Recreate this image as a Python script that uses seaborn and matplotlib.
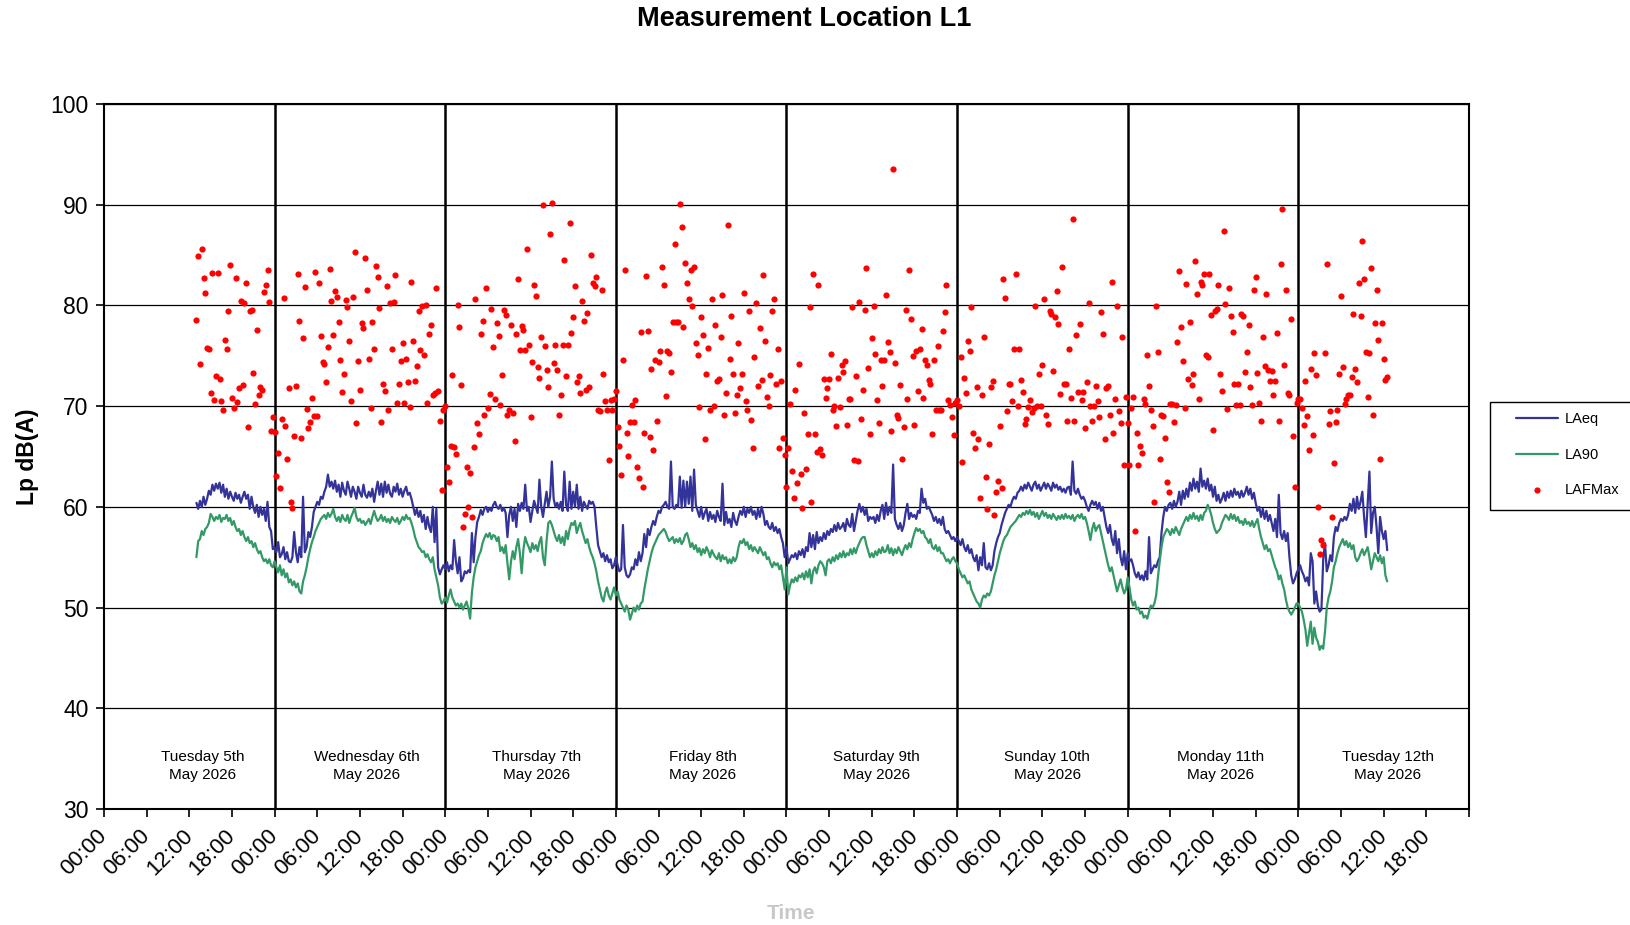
import pandas as pd
import seaborn as sns
import matplotlib.pyplot as plt
from matplotlib.patches import Rectangle

# Noise survey at L1: 15 minute LAeq / LA90 / LAFMax, one list per calendar day

day_starts = ['2026-05-05 13:00', '2026-05-06', '2026-05-07', '2026-05-08',
              '2026-05-09', '2026-05-10', '2026-05-11', '2026-05-12']
day_labels = ['Tuesday 5th\nMay 2026', 'Wednesday 6th\nMay 2026', 'Thursday 7th\nMay 2026',
              'Friday 8th\nMay 2026', 'Saturday 9th\nMay 2026', 'Sunday 10th\nMay 2026',
              'Monday 11th\nMay 2026', 'Tuesday 12th\nMay 2026']

laeq_tue5 = [60.4, 59.8, 60.6, 60.0, 61.0, 60.2, 60.8, 61.6, 61.2, 62.2, 61.6, 62.3,
             61.8, 62.4, 61.4, 62.2, 61.0, 61.8, 60.8, 61.5, 61.0, 60.6, 61.4, 60.8,
             61.2, 60.4, 61.0, 61.5, 60.8, 61.2, 59.8, 61.0, 60.0, 59.4, 60.2, 59.0,
             60.0, 59.2, 59.8, 58.6, 60.5, 58.0, 57.6, 55.8]
laeq_wed6 = [56.0, 55.5, 56.5, 55.0, 55.3, 56.0, 54.8, 55.5, 54.6, 54.5, 55.0, 57.5,
             55.5, 54.5, 56.0, 55.0, 61.0, 55.5, 56.0, 57.5, 57.0, 58.0, 59.5, 60.0,
             60.5, 60.2, 61.0, 60.8, 61.5, 62.0, 63.2, 62.0, 62.5, 61.8, 62.6, 61.5,
             62.2, 61.0, 62.4, 61.6, 61.2, 62.5, 61.8, 61.0, 62.0, 61.5, 60.8, 62.0,
             61.4, 61.0, 62.2, 61.2, 60.9, 61.5, 61.0, 61.8, 60.5, 61.6, 62.5, 61.2,
             62.3, 61.0, 62.5, 61.4, 62.2, 61.3, 61.0, 62.0, 61.5, 62.3, 61.2, 61.8,
             61.0, 61.6, 62.0, 61.2, 61.4, 60.8, 60.0, 59.2, 59.8, 59.0, 59.6, 58.5,
             59.2, 57.8, 59.0, 58.0, 57.5, 60.0, 56.5, 59.8, 54.0, 53.3, 53.8, 54.2]
laeq_thu7 = [53.8, 54.5, 53.6, 54.2, 53.8, 56.7, 54.6, 53.4, 55.0, 52.6, 52.9, 53.6,
             53.4, 53.7, 53.5, 57.4, 54.5, 57.0, 58.5, 59.0, 59.7, 59.2, 59.8, 60.0,
             59.5, 59.9, 59.6, 60.2, 60.5, 60.0, 59.8, 60.2, 59.6, 59.9, 59.4, 57.0,
             59.2, 60.0, 58.6, 59.8, 58.0, 60.3, 59.6, 60.4, 59.8, 62.2, 59.6, 60.0,
             58.5, 59.6, 60.6, 60.0, 59.4, 62.7, 60.0, 59.0, 60.3, 61.5, 60.0, 61.0,
             64.5, 60.8, 60.0, 60.4, 59.8, 60.5, 59.6, 63.5, 60.2, 59.6, 62.5, 59.8,
             61.5, 60.0, 62.2, 59.8, 61.0, 59.6, 60.5, 60.1, 59.8, 60.6, 60.3, 60.5,
             60.0, 58.0, 56.2, 55.6, 55.0, 55.4, 54.6, 55.2, 54.5, 54.8, 53.9, 54.2]
laeq_fri8 = [55.0, 54.2, 53.6, 53.8, 58.2, 54.0, 53.2, 53.0, 53.3, 54.0, 53.8, 54.8,
             54.2, 55.5, 54.6, 55.4, 57.3, 56.0, 57.8, 57.2, 58.0, 58.6, 58.2, 59.0,
             59.6, 59.4, 60.0, 60.2, 60.5, 60.0, 59.8, 64.5, 60.0, 59.8, 60.2, 60.0,
             63.0, 59.9, 62.6, 60.0, 62.5, 60.3, 63.0, 59.6, 63.7, 60.2, 59.6, 59.0,
             60.0, 58.8, 59.4, 59.8, 58.6, 59.5, 58.8, 59.2, 58.5, 59.6, 59.0, 58.6,
             62.3, 58.2, 59.5, 58.4, 58.8, 58.0, 59.4, 58.6, 58.2, 59.0, 59.6, 59.2,
             60.0, 59.0, 59.8, 59.4, 60.0, 59.2, 59.6, 58.8, 59.8, 59.0, 60.0, 59.3,
             58.2, 58.6, 58.0, 57.8, 58.4, 57.6, 58.0, 57.4, 57.8, 57.0, 56.4, 55.0]
laeq_sat9 = [56.0, 54.4, 54.8, 55.2, 55.0, 55.4, 54.8, 55.6, 55.2, 55.8, 55.0, 56.0,
             55.6, 57.4, 56.0, 57.2, 55.8, 57.5, 56.4, 57.0, 56.6, 57.4, 56.8, 57.6,
             57.2, 57.8, 57.5, 58.2, 57.6, 58.4, 57.8, 58.0, 58.4, 57.6, 58.8, 58.2,
             58.0, 59.3, 57.6, 58.6, 59.6, 60.3, 59.5, 60.0, 59.2, 59.8, 58.6, 59.0,
             58.8, 59.0, 58.4, 59.2, 58.6, 59.6, 60.2, 58.8, 60.4, 59.2, 60.0, 59.4,
             64.2, 58.8, 58.2, 57.8, 58.4, 57.6, 58.2, 59.4, 60.3, 58.8, 59.4, 59.0,
             59.2, 58.8, 59.6, 59.4, 61.8, 60.4, 60.8, 59.8, 60.0, 59.6, 59.2, 58.6,
             59.0, 58.4, 58.8, 58.2, 59.0, 57.8, 57.4, 57.6, 57.2, 56.8, 57.0, 56.6]
laeq_sun10 = [57.0, 56.6, 56.2, 56.8, 56.0, 55.6, 56.2, 55.4, 55.8, 55.0, 54.6, 55.2,
              53.7, 55.0, 54.2, 56.4, 54.0, 53.8, 54.4, 53.7, 54.2, 55.6, 56.4, 57.0,
              57.4, 58.2, 58.8, 59.4, 59.8, 60.2, 60.0, 60.6, 61.0, 60.8, 61.4, 61.6,
              62.0, 61.6, 62.2, 61.8, 62.4, 62.0, 61.6, 62.2, 62.5, 61.8, 62.2, 61.6,
              62.0, 62.4, 61.8, 62.3, 62.0, 61.6, 62.4, 61.9, 62.2, 61.7, 62.0, 61.5,
              61.8, 61.4, 61.9, 62.0, 61.2, 64.5, 61.6, 61.3, 61.8, 61.2, 60.8, 61.0,
              60.6, 60.0, 59.6, 60.2, 60.6, 60.2, 60.5, 59.8, 60.4, 59.6, 60.0, 59.0,
              58.0, 57.4, 58.2, 56.8, 56.2, 57.6, 55.4, 56.8, 55.0, 54.2, 55.6, 53.8]
laeq_mon11 = [55.4, 54.6, 54.8, 54.2, 53.4, 53.0, 53.5, 52.8, 53.2, 52.7, 53.6, 52.8,
              57.0, 53.4, 53.8, 54.2, 54.0, 54.6, 55.0, 57.4, 59.0, 60.0, 59.6, 60.2,
              60.4, 59.8, 60.6, 60.0, 60.5, 61.5, 60.2, 61.6, 60.8, 61.8, 61.0, 62.4,
              61.6, 62.8, 61.8, 62.5, 61.5, 63.8, 62.0, 62.6, 61.8, 62.8, 61.6, 62.2,
              61.0, 62.0, 60.6, 61.2, 60.4, 60.8, 61.4, 60.6, 61.5, 60.9, 61.6, 61.0,
              61.8, 61.2, 61.5, 60.9, 61.6, 61.0, 61.4, 62.0, 61.2, 61.8, 60.8, 61.4,
              60.4, 59.6, 60.0, 59.0, 59.8, 58.8, 59.6, 58.6, 59.2, 58.4, 57.6, 58.8,
              57.0, 61.2, 57.4, 56.8, 57.6, 56.6, 57.4, 55.0, 53.2, 52.4, 52.8, 53.4]
laeq_tue12 = [53.8, 54.2, 53.6, 53.2, 52.6, 53.0, 52.2, 55.4, 54.6, 50.4, 51.6, 50.2,
              49.6, 49.8, 54.8, 56.4, 53.6, 54.2, 55.2, 54.6, 57.0, 58.0, 57.6, 58.4,
              58.8, 58.6, 59.0, 58.7, 59.2, 60.3, 59.6, 60.8, 59.4, 61.0, 59.8, 60.5,
              61.5, 59.0, 57.0, 60.2, 63.5, 57.4, 59.4, 60.0, 58.0, 55.4, 59.0, 57.6,
              56.8, 57.6, 55.7]

la90_tue5 = [55.0, 56.6, 56.8, 57.6, 57.2, 57.8, 58.0, 58.4, 59.3, 59.0, 58.6, 59.0,
             58.8, 59.2, 58.5, 58.9, 58.8, 59.2, 58.6, 58.9, 58.2, 58.6, 58.0, 57.6,
             57.8, 57.2, 57.6, 57.0, 56.6, 57.0, 56.4, 56.6, 56.0, 56.4, 55.8, 55.4,
             55.6, 55.0, 54.6, 54.8, 54.4, 54.8, 54.2, 54.0]
la90_wed6 = [54.6, 54.0, 53.5, 54.2, 53.2, 53.8, 53.0, 53.4, 52.5, 52.8, 52.2, 52.6,
             52.0, 52.4, 51.6, 51.4, 52.6, 53.2, 54.0, 55.0, 55.8, 56.5, 57.0, 57.6,
             58.0, 58.4, 58.8, 59.0, 59.2, 58.8, 59.4, 59.0, 59.3, 59.8, 59.0, 58.6,
             59.0, 58.5, 59.2, 58.8, 58.6, 59.2, 58.4, 59.0, 59.4, 59.9, 59.0, 58.6,
             58.8, 58.4, 58.6, 58.2, 58.5, 58.8, 58.3, 59.0, 59.6, 59.0, 58.6, 58.8,
             59.2, 58.6, 59.0, 58.5, 58.8, 58.4, 59.0, 58.7, 58.5, 58.9, 58.3, 58.6,
             59.0, 58.7, 59.2, 58.8, 58.9, 58.4, 57.8, 57.0, 56.5, 56.0, 55.8, 55.5,
             55.6, 55.0, 55.3, 54.8, 54.5, 55.0, 53.8, 53.0, 52.2, 51.0, 50.4, 50.6]
la90_thu7 = [51.0, 50.5, 51.2, 51.8, 51.0, 50.6, 50.2, 50.4, 50.0, 50.4, 49.8, 50.2,
             50.6, 49.9, 48.9, 51.5, 53.0, 54.0, 54.6, 55.2, 55.6, 56.4, 56.9, 57.3,
             57.0, 57.4, 56.8, 57.2, 57.1, 56.6, 57.0, 55.6, 56.0, 55.4, 56.2, 54.4,
             52.8, 54.6, 55.6, 54.8, 56.0, 56.8, 55.4, 53.4, 55.8, 57.0, 56.4, 56.0,
             55.5, 56.4, 55.8, 56.2, 55.6, 56.5, 57.0, 55.0, 54.2, 56.6, 58.4, 58.6,
             58.2, 57.6, 57.0, 56.6, 57.2, 56.4, 57.0, 56.2, 57.6, 56.8, 57.8, 58.4,
             58.2, 58.6, 57.4, 58.0, 58.4, 57.6, 57.0, 56.4, 56.8, 56.0, 55.4, 55.0,
             54.4, 53.6, 52.6, 51.8, 51.0, 50.6, 51.5, 52.0, 51.2, 50.8, 51.4, 52.0]
la90_fri8 = [51.2, 51.6, 50.8, 50.4, 50.0, 49.6, 50.2, 49.8, 48.8, 49.4, 50.0, 49.6,
             50.2, 49.8, 50.4, 50.6, 51.8, 52.8, 53.8, 54.6, 55.4, 56.0, 56.4, 56.8,
             57.2, 57.4, 57.6, 57.8, 57.5, 57.0, 56.6, 56.8, 57.0, 56.4, 56.8, 56.5,
             56.9, 56.3, 56.6, 57.2, 57.4, 56.8, 56.0, 56.4, 55.8, 56.2, 55.5, 55.9,
             55.2, 55.8, 55.4, 56.0, 55.6, 55.0, 55.7, 55.3, 55.0, 54.8, 55.4, 54.6,
             55.2, 54.8, 55.0, 54.4, 54.8, 54.4, 55.0, 54.6, 55.0, 56.0, 56.6, 56.4,
             56.8, 56.2, 56.5, 55.8, 56.2, 55.6, 56.0, 55.7, 55.4, 56.0, 55.6, 55.2,
             55.5, 54.8, 55.0, 54.4, 54.0, 54.5, 54.2, 54.4, 53.8, 54.2, 53.0, 51.8]
la90_sat9 = [54.0, 51.3, 52.2, 52.8, 52.5, 53.0, 52.6, 53.2, 53.0, 53.4, 52.8, 53.6,
             53.0, 53.8, 52.4, 53.6, 54.0, 53.4, 54.2, 54.6, 54.4, 54.0, 53.2, 54.6,
             54.8, 54.4, 55.0, 54.6, 55.2, 54.8, 55.4, 55.0, 55.6, 55.0, 55.4, 55.2,
             55.8, 55.3, 55.9, 55.4, 56.0, 56.4, 56.8, 57.0, 57.0, 56.2, 55.6, 55.0,
             55.4, 55.0, 55.6, 55.2, 55.8, 55.4, 56.0, 55.5, 55.6, 56.2, 55.4, 55.9,
             55.2, 55.8, 55.4, 56.0, 55.6, 55.2, 55.8, 56.2, 55.8, 56.4, 56.0, 56.8,
             57.4, 57.9, 57.6, 57.8, 57.4, 57.6, 57.0, 56.8, 56.4, 56.8, 56.0, 55.8,
             56.2, 55.6, 56.0, 55.4, 55.4, 55.0, 54.6, 54.8, 54.4, 54.8, 55.0, 54.6]
la90_sun10 = [54.4, 53.8, 53.4, 53.0, 53.2, 52.8, 52.4, 52.6, 51.8, 51.4, 51.0, 50.6,
              50.4, 50.0, 50.8, 51.2, 51.0, 51.4, 51.2, 51.6, 52.4, 53.2, 53.8, 54.6,
              55.4, 56.0, 56.6, 57.0, 57.2, 57.6, 58.0, 58.2, 58.4, 58.6, 58.9, 59.2,
              59.0, 59.4, 59.2, 59.6, 59.3, 59.7, 59.2, 59.5, 59.0, 59.4, 58.8, 59.2,
              59.6, 59.1, 59.4, 58.9, 59.2, 58.8, 59.3, 59.0, 58.7, 59.1, 58.8, 59.2,
              58.8, 59.3, 58.9, 59.1, 58.8, 59.2, 58.6, 59.0, 59.2, 58.9, 59.3, 58.8,
              59.0, 58.4, 57.6, 56.7, 57.8, 58.4, 57.6, 58.0, 58.2, 57.4, 56.6, 55.8,
              55.0, 54.2, 53.6, 54.0, 53.2, 52.4, 51.6, 52.2, 52.8, 52.0, 51.4, 51.8]
la90_mon11 = [53.0, 52.0, 50.8, 50.2, 50.6, 49.8, 50.0, 49.4, 49.6, 49.0, 49.2, 48.9,
              49.6, 50.2, 50.0, 50.4, 51.2, 53.0, 54.6, 56.0, 57.0, 57.4, 57.8, 57.6,
              57.2, 57.8, 57.4, 58.0, 57.6, 57.2, 57.8, 58.2, 58.6, 59.0, 58.6, 59.2,
              58.8, 59.4, 58.8, 59.1, 58.6, 59.2, 58.7, 59.4, 59.6, 60.2, 59.8, 59.2,
              58.4, 57.8, 57.4, 57.6, 57.8, 58.4, 58.8, 59.2, 59.0, 58.7, 59.3, 58.8,
              59.2, 58.6, 59.0, 58.4, 58.6, 58.2, 58.8, 58.3, 58.5, 58.1, 58.6, 58.0,
              58.4, 58.8, 57.8, 57.0, 56.4, 55.8, 56.2, 55.6, 55.8, 55.2, 54.6, 54.0,
              53.6, 52.8, 53.2, 52.4, 51.8, 50.8, 50.0, 49.6, 49.3, 49.6, 50.0, 50.4]
la90_tue12 = [50.4, 50.0, 49.6, 48.8, 47.8, 46.2, 47.4, 48.6, 46.4, 48.0, 47.0, 46.6,
              45.8, 46.2, 45.9, 47.6, 50.0, 51.0, 51.6, 52.6, 54.0, 54.6, 55.4, 56.0,
              56.4, 56.8, 56.2, 56.6, 56.0, 56.4, 55.8, 56.2, 55.0, 54.6, 54.9, 55.4,
              55.8, 55.2, 55.6, 56.0, 55.0, 53.8, 54.6, 55.4, 55.0, 54.6, 55.2, 54.4,
              55.0, 53.2, 52.6]

lafmax_tue5 = [78.6, 84.9, 74.2, 85.6, 82.7, 81.2, 75.8, 75.7, 71.3, 83.2, 70.6, 73.0,
               83.2, 72.7, 70.5, 69.6, 76.6, 75.7, 79.4, 84.0, 70.8, 69.8, 82.7, 70.4,
               71.8, 80.4, 72.1, 80.2, 82.2, 67.9, 79.4, 79.5, 73.3, 70.2, 77.6, 71.1,
               71.9, 71.6, 81.3, 82.0, 83.5, 80.3, 67.5, 68.9]
lafmax_wed6 = [67.4, 63.1, 65.3, 61.9, 68.7, 80.7, 68.0, 64.8, 71.8, 60.5, 59.9, 67.0,
               72.0, 83.1, 78.5, 66.8, 76.8, 81.8, 69.7, 67.8, 68.4, 70.8, 69.0, 83.3,
               69.0, 82.2, 77.0, 74.4, 74.2, 72.4, 75.9, 83.6, 80.4, 77.1, 81.4, 80.8,
               78.4, 74.6, 71.4, 73.2, 80.5, 79.8, 76.5, 70.5, 80.8, 85.3, 68.3, 74.5,
               71.6, 78.3, 77.8, 84.7, 81.5, 74.7, 69.8, 78.4, 75.7, 83.9, 82.8, 79.7,
               68.4, 72.2, 71.5, 81.9, 69.6, 80.2, 75.7, 80.3, 83.0, 70.3, 72.2, 74.5,
               76.3, 70.3, 74.7, 72.4, 69.9, 82.3, 76.5, 72.5, 74.0, 79.4, 75.6, 79.9,
               75.1, 80.0, 70.3, 77.2, 78.1, 71.1, 71.3, 81.7, 71.5, 68.5, 61.7, 69.6]
lafmax_thu7 = [70.0, 64.0, 62.5, 66.0, 73.1, 65.9, 65.2, 80.0, 77.9, 72.1, 58.0, 59.3,
               64.0, 60.0, 63.4, 59.0, 65.9, 80.6, 68.3, 67.2, 77.2, 78.5, 69.1, 81.7,
               69.8, 71.2, 79.6, 75.9, 70.7, 78.3, 77.0, 70.1, 73.1, 79.5, 79.0, 69.1,
               69.6, 78.1, 69.3, 66.5, 77.2, 82.6, 75.6, 78.0, 77.6, 75.6, 85.6, 76.1,
               68.9, 74.4, 82.0, 80.9, 73.9, 72.8, 76.9, 90.0, 76.0, 73.6, 71.9, 87.1,
               90.2, 74.3, 76.1, 73.6, 69.1, 71.1, 76.1, 84.5, 73.0, 76.1, 88.2, 77.3,
               78.8, 81.9, 72.4, 73.0, 71.3, 80.4, 78.5, 71.6, 79.2, 71.9, 85.0, 82.2,
               81.9, 82.8, 69.6, 69.5, 81.5, 73.2, 70.5, 69.6, 64.7, 70.6, 69.6, 70.7]
lafmax_fri8 = [71.5, 67.9, 66.0, 63.2, 74.6, 83.5, 67.3, 65.0, 68.4, 70.1, 68.4, 70.6,
               64.0, 62.9, 77.4, 62.0, 67.3, 82.9, 77.5, 66.9, 73.7, 65.6, 74.6, 68.5,
               74.4, 75.5, 83.8, 82.0, 71.0, 75.5, 75.3, 73.4, 78.4, 86.1, 78.4, 78.4,
               90.1, 87.8, 77.9, 84.2, 82.2, 80.6, 83.5, 79.9, 83.8, 76.3, 75.1, 69.9,
               78.8, 77.1, 66.7, 73.2, 75.8, 69.6, 80.6, 70.0, 78.1, 72.5, 72.7, 76.9,
               81.0, 69.1, 71.3, 88.0, 74.7, 78.9, 73.2, 69.3, 71.1, 76.3, 71.8, 73.2,
               81.2, 70.5, 69.6, 79.4, 68.6, 65.8, 74.9, 80.2, 72.0, 77.8, 72.6, 83.0,
               76.5, 70.9, 70.0, 73.1, 79.4, 80.6, 72.2, 75.7, 65.8, 72.5, 66.8, 65.1]
lafmax_sat9 = [62.0, 65.8, 70.2, 63.6, 60.9, 71.6, 62.4, 74.2, 63.3, 59.9, 69.3, 63.8,
               67.2, 79.8, 60.5, 83.1, 67.2, 65.4, 82.0, 65.7, 65.1, 72.7, 70.8, 71.8,
               72.7, 75.2, 69.6, 70.0, 68.0, 72.8, 69.9, 74.1, 73.4, 74.5, 68.1, 70.7,
               70.7, 79.8, 64.7, 73.0, 64.6, 80.3, 68.7, 71.6, 79.5, 83.7, 73.8, 67.2,
               76.8, 79.9, 75.2, 70.6, 68.3, 74.6, 72.0, 74.6, 81.0, 76.4, 75.4, 67.5,
               93.5, 74.3, 69.1, 68.8, 72.1, 64.8, 67.9, 79.5, 70.7, 83.5, 78.7, 75.0,
               68.1, 75.5, 71.5, 75.7, 77.7, 70.8, 74.6, 74.1, 72.6, 72.2, 67.2, 74.6,
               69.6, 76.0, 69.6, 69.6, 77.5, 79.3, 82.0, 70.6, 70.1, 68.9, 67.1, 70.3]
lafmax_sun10 = [70.6, 70.0, 74.9, 64.5, 72.8, 71.3, 76.5, 75.5, 79.8, 67.3, 65.8, 71.9,
                66.7, 60.9, 71.1, 76.9, 63.0, 59.8, 66.2, 71.9, 72.5, 59.2, 61.5, 62.6,
                68.0, 61.9, 82.6, 80.7, 69.5, 72.2, 72.2, 70.5, 75.7, 83.1, 70.0, 75.7,
                72.6, 71.4, 68.2, 68.7, 69.9, 70.6, 69.4, 69.8, 79.9, 70.0, 73.2, 70.0,
                74.1, 80.6, 69.1, 68.2, 79.4, 79.1, 73.5, 78.8, 81.4, 78.2, 71.2, 83.8,
                72.2, 72.2, 68.5, 75.7, 70.8, 88.6, 68.5, 77.1, 71.4, 78.2, 70.6, 71.4,
                67.8, 72.4, 80.2, 70.0, 68.5, 70.0, 72.0, 70.5, 68.9, 79.3, 77.2, 66.7,
                71.8, 72.0, 69.1, 82.3, 67.3, 70.7, 79.9, 69.5, 68.3, 76.9, 64.2, 70.9]
lafmax_mon11 = [68.3, 64.2, 69.8, 70.9, 57.6, 67.3, 64.2, 66.0, 65.3, 70.7, 70.2, 75.1,
                72.0, 69.6, 68.0, 60.5, 79.9, 75.4, 64.8, 69.1, 69.0, 66.8, 62.5, 61.5,
                70.2, 70.2, 68.4, 70.1, 76.4, 83.4, 77.9, 74.5, 69.8, 82.1, 72.7, 78.4,
                72.1, 73.2, 84.4, 81.1, 70.7, 82.3, 82.0, 83.1, 75.1, 74.9, 83.1, 79.0,
                67.6, 79.4, 79.6, 82.0, 73.2, 71.5, 87.4, 80.1, 69.7, 81.7, 78.9, 77.4,
                72.2, 70.1, 72.2, 70.1, 79.1, 78.9, 73.4, 75.4, 78.1, 71.9, 70.1, 81.5,
                82.8, 73.3, 70.3, 68.5, 76.9, 74.0, 81.1, 73.6, 72.5, 73.5, 71.1, 72.5,
                77.3, 68.5, 84.1, 89.6, 74.1, 81.5, 71.3, 71.1, 78.7, 67.0, 62.0, 70.3]
lafmax_tue12 = [70.7, 70.7, 69.8, 68.1, 72.5, 69.0, 65.6, 73.7, 67.1, 75.3, 73.1, 60.0,
                55.3, 56.7, 56.2, 75.3, 84.1, 68.2, 69.5, 59.0, 64.4, 68.4, 69.6, 73.2,
                80.9, 73.9, 70.2, 70.7, 71.1, 71.1, 72.9, 79.1, 73.7, 72.4, 82.2, 78.9,
                86.4, 82.6, 75.4, 70.9, 75.3, 83.7, 69.1, 78.3, 81.5, 76.6, 64.8, 78.3,
                74.7, 72.6, 72.9]

laeq_days = [laeq_tue5, laeq_wed6, laeq_thu7, laeq_fri8, laeq_sat9, laeq_sun10, laeq_mon11, laeq_tue12]
la90_days = [la90_tue5, la90_wed6, la90_thu7, la90_fri8, la90_sat9, la90_sun10, la90_mon11, la90_tue12]
lafmax_days = [lafmax_tue5, lafmax_wed6, lafmax_thu7, lafmax_fri8, lafmax_sat9, lafmax_sun10,
               lafmax_mon11, lafmax_tue12]


def stack(day_lists):
    parts = []
    for start, vals in zip(day_starts, day_lists):
        t = pd.date_range(start, periods=len(vals), freq='15min')
        parts.append(pd.DataFrame({'time': t, 'level': vals}))
    return pd.concat(parts, ignore_index=True)


laeq = stack(laeq_days)
la90 = stack(la90_days)
lafmax = stack(lafmax_days)

sns.set_style('ticks')
plt.rcParams['font.family'] = ['Liberation Sans', 'DejaVu Sans']
plt.rcParams.update({'text.color': 'black', 'axes.labelcolor': 'black',
                     'xtick.color': 'black', 'ytick.color': 'black'})

fig = plt.figure(figsize=(16.3, 9.25), dpi=100)
ax = fig.add_axes([0.0638, 0.1254, 0.8374, 0.7622])

sns.lineplot(data=laeq, x='time', y='level', color='#333399', lw=1.6, label='LAeq', ax=ax, zorder=3)
sns.lineplot(data=la90, x='time', y='level', color='#339966', lw=1.6, label='LA90', ax=ax, zorder=3)
sns.scatterplot(data=lafmax, x='time', y='level', color='red', s=20, linewidth=0,
                label='LAFMax', ax=ax, zorder=4)

t0 = pd.Timestamp('2026-05-05')
ax.set_xlim(t0, pd.Timestamp('2026-05-13'))
ax.set_ylim(30, 100)
ax.set_yticks(range(30, 101, 10))
ax.yaxis.grid(True, color='black', lw=0.9)
ax.set_axisbelow(True)

ticks = pd.date_range(t0, '2026-05-13', freq='6h')
tick_labels = [t.strftime('%H:%M') for t in ticks]
tick_labels[-1] = ''
ax.set_xticks(ticks)
ax.set_xticklabels(tick_labels, rotation=45, ha='right', va='center', rotation_mode='anchor')
ax.tick_params(axis='x', length=6, width=1.2, pad=11, labelsize=16)
ax.tick_params(axis='y', length=6, width=1.2, pad=5, labelsize=16.5)

# day separators and day captions
for d in pd.date_range('2026-05-06', '2026-05-12', freq='D'):
    ax.axvline(d, color='black', lw=1.8, zorder=2)
label_hours = [13.9, 13.0, 12.9, 12.2, 12.7, 12.7, 13.1, 12.6]
for i, (txt, hr) in enumerate(zip(day_labels, label_hours)):
    ax.text(t0 + pd.Timedelta(days=i, hours=hr), 34.3, txt, ha='center', va='center',
            fontsize=11, linespacing=1.35)

for sp in ax.spines.values():
    sp.set_color('black')
    sp.set_linewidth(1.5)

ax.set_ylabel('Lp dB(A)', fontsize=16.5, fontweight='bold', labelpad=8)
ax.set_xlabel('Time', fontsize=15, fontweight='bold', color='#c8c8c8')
ax.xaxis.set_label_coords(0.503, -0.135)
fig.text(0.4933, 0.979, 'Measurement Location L1', ha='center', va='center',
         fontsize=19.5, fontweight='bold')

# legend box sits half outside the figure, as in the source export
leg = ax.legend(loc='upper left', bbox_to_anchor=(1.0344, 0.5624), borderaxespad=0,
                frameon=False, fontsize=10.5, handlelength=2.9, labelspacing=1.45,
                borderpad=0, handletextpad=0.45)
fig.add_artist(Rectangle((0.9141, 0.4486), 0.1, 0.1168, transform=fig.transFigure,
                         fill=False, edgecolor='black', lw=1.0))

fig.savefig('out.png', dpi=100)
